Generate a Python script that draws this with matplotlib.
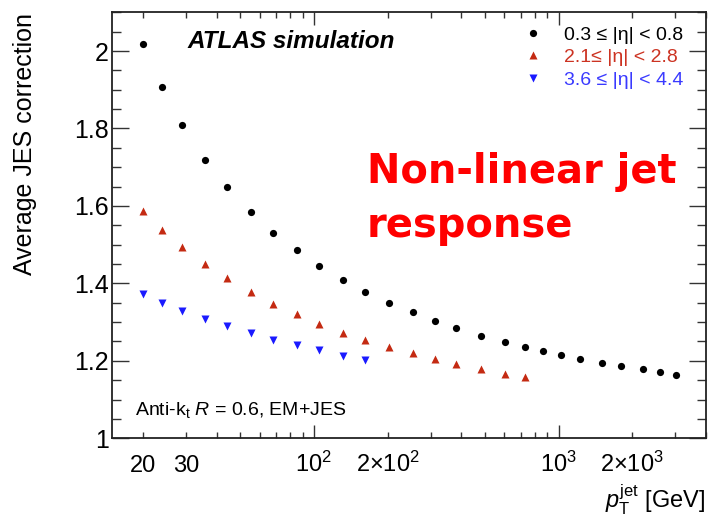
import matplotlib
matplotlib.use("Agg")
import matplotlib.pyplot as plt
from matplotlib.ticker import FixedLocator, FuncFormatter, MultipleLocator

plt.rcParams['font.family'] = ['Liberation Sans', 'DejaVu Sans']
plt.rcParams['mathtext.fontset'] = 'custom'
plt.rcParams['mathtext.rm'] = 'Liberation Sans'
plt.rcParams['mathtext.it'] = 'Liberation Sans:italic'
plt.rcParams['mathtext.bf'] = 'Liberation Sans:bold'

# ---- data ----
pt = [20, 24, 29, 36, 44, 55.5, 68, 85, 105, 131, 161, 202, 253, 312, 382, 483,
      605, 726, 866, 1023, 1227, 1500, 1799, 2204, 2594, 3017]
jes_central = [2.019, 1.906, 1.808, 1.718, 1.649, 1.584, 1.531, 1.486, 1.446, 1.409,
               1.379, 1.350, 1.325, 1.303, 1.284, 1.264, 1.248, 1.235, 1.2245, 1.215,
               1.206, 1.195, 1.187, 1.178, 1.170, 1.163]
jes_endcap = [1.587, 1.539, 1.493, 1.449, 1.414, 1.378, 1.347, 1.321, 1.295, 1.273,
              1.254, 1.236, 1.219, 1.205, 1.192, 1.178, 1.166, 1.158]
jes_forward = [1.372, 1.350, 1.328, 1.308, 1.290, 1.271, 1.255, 1.241, 1.228, 1.212, 1.202]

labels = [r"0.3 ≤ |η| < 0.8", r"2.1≤ |η| < 2.8", r"3.6 ≤ |η| < 4.4"]
colors = ["black", "#c42a12", "#1a1aff"]
text_colors = ["black", "#cc3322", "#3a3aff"]

x_tick_labels = {20: "20", 30: "30", 100: r"$10^{2}$", 200: r"$2{\times}10^{2}$",
                 1000: r"$10^{3}$", 2000: r"$2{\times}10^{3}$"}

W, H = 709, 517
fig = plt.figure(figsize=(W / 100, H / 100), dpi=100)
ax = fig.add_axes([112.3 / W, 1 - 438.3 / H, (706 - 112.3) / W, (438.3 - 12.3) / H])

h1, = ax.plot(pt[:len(jes_central)], jes_central, 'o', color=colors[0], ms=5.2, mec='none')
h2, = ax.plot(pt[:len(jes_endcap)], jes_endcap, '^', color=colors[1], ms=6.2, mec='none')
h3, = ax.plot(pt[:len(jes_forward)], jes_forward, 'v', color=colors[2], ms=5.4, mec='none')

ax.set_xscale('log')
ax.set_xlim(15, 4000)
ax.set_ylim(1, 2.1)

# x ticks
ax.xaxis.set_major_locator(FixedLocator([100, 1000]))
minors = [v * d for d in (10, 100, 1000) for v in range(2, 10) if 15 <= v * d <= 4000]
ax.xaxis.set_minor_locator(FixedLocator(minors))
fmt = FuncFormatter(lambda v, p: x_tick_labels.get(int(round(v)), ""))
ax.xaxis.set_major_formatter(fmt)
ax.xaxis.set_minor_formatter(fmt)

# y ticks
ax.yaxis.set_major_locator(MultipleLocator(0.2))
ax.yaxis.set_minor_locator(MultipleLocator(0.05))
ax.yaxis.set_major_formatter(FuncFormatter(lambda v, p: f"{v:g}"))

ax.tick_params(which='both', direction='in', top=True, right=True, labeltop=False,
               labelright=False, color='#333333', width=1.0)
ax.tick_params(axis='x', which='major', length=9.5, pad=24.5, labelsize=17)
ax.tick_params(axis='x', which='minor', length=4.5, pad=24.5, labelsize=17)
ax.tick_params(axis='y', which='major', length=12.5, pad=2.5, labelsize=18)
ax.tick_params(axis='y', which='minor', length=6.5)
for t in ax.xaxis.get_major_ticks() + ax.xaxis.get_minor_ticks():
    t.label1.set_va('baseline')

for s in ax.spines.values():
    s.set_linewidth(1.3)
    s.set_color('#222222')

leg = ax.legend([h1, h2, h3], labels, loc='upper left', frameon=False,
                bbox_to_anchor=(523.7 / W, 1 - 26.0 / H), bbox_transform=fig.transFigure,
                borderpad=0, borderaxespad=0, handlelength=1.0, handletextpad=1.05,
                labelspacing=0.25, fontsize=14, labelcolor=text_colors)

fig.text(188 / W, 1 - 48 / H, "ATLAS simulation", fontsize=17.5, fontweight='bold',
         fontstyle='italic', ha='left', va='baseline')
fig.text(135 / W, 1 - 415 / H, r"Anti-k$_\mathregular{t}$ $R$ = 0.6, EM+JES", fontsize=14,
         ha='left', va='baseline')
fig.text(366.7 / W, 1 - 183 / H, "Non-linear jet", fontsize=28.8, fontweight='bold',
         color='#ff0000', family='DejaVu Sans', ha='left', va='baseline')
fig.text(366.7 / W, 1 - 237 / H, "response", fontsize=28.8, fontweight='bold',
         color='#ff0000', family='DejaVu Sans', ha='left', va='baseline')

fig.text(705 / W, 1 - 508 / H, r"$p_{\mathrm{T}}^{\mathrm{jet}}$ [GeV]", fontsize=17,
         ha='right', va='baseline')
fig.text(25 / W, 1 - 13 / H, "Average JES correction", fontsize=18, rotation=90,
         ha='center', va='top')

fig.savefig("out.png", dpi=100)
